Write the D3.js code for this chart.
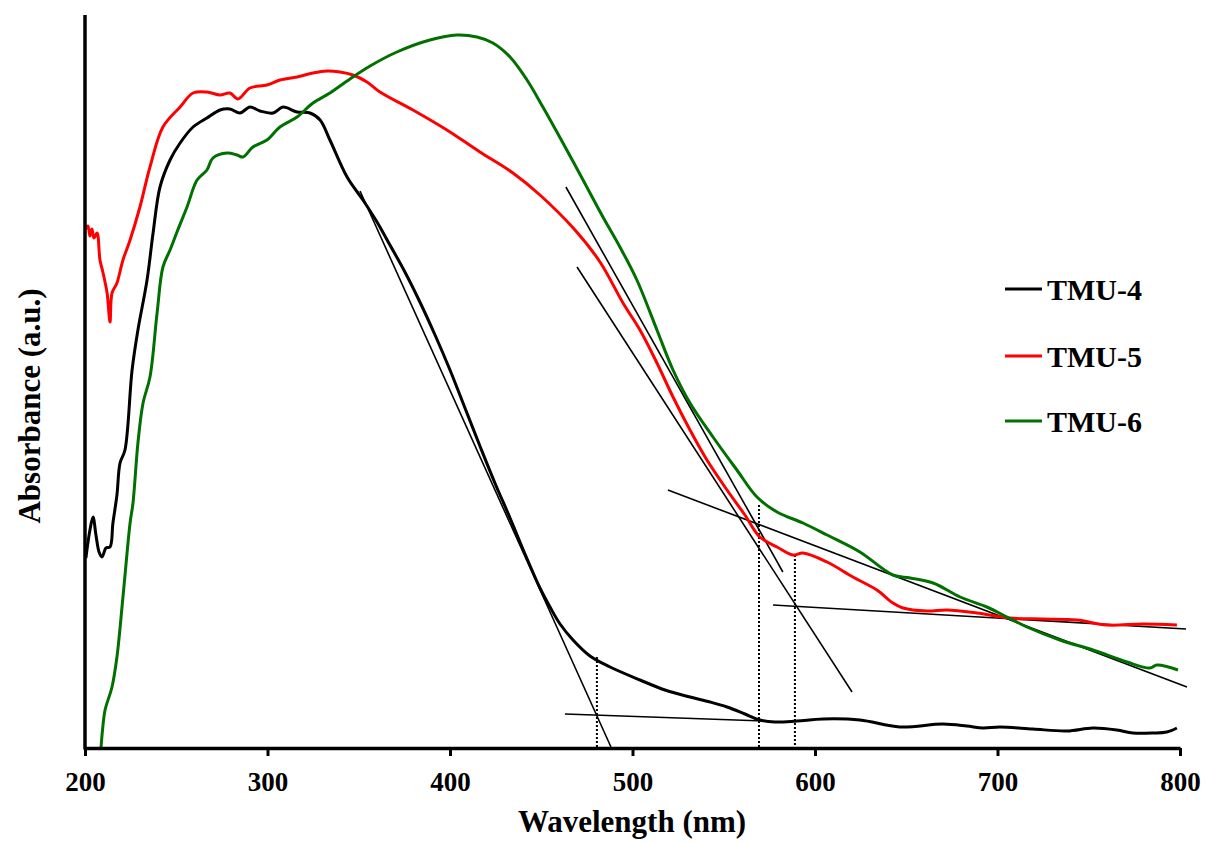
<!DOCTYPE html>
<html>
<head>
<meta charset="utf-8">
<script src="https://cdn.jsdelivr.net/npm/d3@7"></script>
<style>
  html, body { margin: 0; padding: 0; background: #fff; }
  svg { display: block; }
  text { font-family: "Liberation Serif", "Times New Roman", serif; font-weight: bold; fill: #000; }
</style>
</head>
<body>
<svg id="chart" width="1207" height="842"></svg>
<script>
// ---- data (wavelength nm, absorbance a.u.) ----
const xTicks = [200, 300, 400, 500, 600, 700, 800];
const seriesNames = ["TMU-4", "TMU-5", "TMU-6"];
const seriesColors = ["#000000", "#ff0000", "#007000"];

const tmu4 = [
  [200.5,0.380],[202.7,0.436],[204.4,0.462],[206.0,0.426],[207.7,0.392],[209.3,0.382],[211.5,0.400],
  [213.7,0.402],[215.3,0.450],[217.5,0.506],[219.2,0.570],[221.9,0.596],[225.8,0.756],[229.0,0.836],
  [234.0,0.936],[237.3,1.030],[241.1,1.122],[246.6,1.176],[252.1,1.210],[259.2,1.242],[266.8,1.260],
  [274.0,1.276],[279.4,1.278],[284.9,1.270],[290.4,1.282],[295.9,1.274],[303.0,1.270],[308.5,1.282],
  [316.2,1.272],[323.3,1.270],[328.8,1.256],[334.2,1.216],[343.6,1.142],[352.3,1.096],[360.0,1.052],
  [367.1,1.006],[375.3,0.952],[383.5,0.892],[391.8,0.826],[400.0,0.756],[408.2,0.680],[416.4,0.604],
  [424.6,0.530],[432.9,0.460],[441.1,0.388],[449.3,0.320],[454.8,0.282],[460.3,0.248],[467.4,0.216],
  [476.7,0.184],[487.7,0.162],[504.1,0.136],[517.8,0.116],[531.5,0.102],[542.5,0.092],[551.8,0.082],
  [561.6,0.068],[569.8,0.056],[578.1,0.052],[590.1,0.054],[604.4,0.058],[624.6,0.056],[646.5,0.042],
  [670.1,0.048],[683.2,0.044],[692.0,0.040],[701.3,0.042],[719.4,0.038],[738.0,0.034],[752.3,0.040],
  [765.4,0.036],[774.2,0.030],[785.2,0.030],[792.8,0.032],[798.3,0.040]
];

const tmu5 = [
  [200.0,1.036],[201.6,1.044],[202.7,1.024],[203.8,1.038],[204.9,1.020],[206.6,1.030],[208.2,0.976],
  [209.9,0.950],[212.1,0.910],[213.7,0.852],[214.8,0.910],[217.5,0.930],[220.8,0.976],[224.7,1.016],
  [230.1,1.082],[235.6,1.162],[242.7,1.242],[252.1,1.282],[259.2,1.310],[266.8,1.312],[274.0,1.306],
  [279.4,1.310],[283.8,1.298],[290.4,1.320],[299.7,1.326],[306.8,1.336],[316.2,1.342],[324.9,1.350],
  [332.6,1.354],[339.7,1.352],[346.8,1.346],[354.5,1.332],[361.6,1.312],[379.7,1.276],[398.3,1.236],
  [416.4,1.192],[434.5,1.150],[449.3,1.106],[468.5,1.036],[482.2,0.972],[494.8,0.890],[504.1,0.836],
  [513.4,0.770],[522.2,0.702],[531.5,0.636],[540.8,0.576],[551.8,0.516],[561.6,0.466],[569.8,0.422],
  [579.2,0.402],[587.9,0.386],[593.4,0.390],[606.6,0.372],[620.8,0.342],[633.9,0.316],[642.7,0.290],
  [648.2,0.280],[661.3,0.274],[672.3,0.276],[688.7,0.270],[706.8,0.260],[724.9,0.258],[743.5,0.256],
  [759.9,0.246],[779.7,0.248],[798.3,0.246]
];

const tmu6 = [
  [208.8,0.002],[209.6,0.036],[211.0,0.076],[214.8,0.122],[217.5,0.182],[220.8,0.302],[224.7,0.450],
  [226.3,0.490],[229.0,0.610],[231.8,0.690],[235.6,0.742],[239.5,0.870],[242.7,0.962],[246.6,0.996],
  [250.4,1.032],[255.9,1.082],[261.4,1.136],[266.8,1.156],[270.1,1.180],[277.8,1.190],[283.3,1.186],
  [286.6,1.182],[292.0,1.202],[299.7,1.216],[306.8,1.242],[316.2,1.262],[324.9,1.290],[334.2,1.310],
  [345.2,1.338],[356.2,1.364],[370.9,1.392],[389.0,1.416],[403.8,1.426],[414.8,1.422],[423.5,1.410],
  [432.9,1.382],[442.2,1.336],[450.9,1.282],[461.9,1.210],[472.9,1.136],[483.8,1.062],[493.1,1.002],
  [502.4,0.936],[513.4,0.836],[522.2,0.756],[531.5,0.690],[544.1,0.622],[557.2,0.556],[568.2,0.502],
  [579.2,0.472],[593.4,0.450],[606.6,0.426],[624.6,0.392],[642.7,0.346],[652.1,0.340],[664.7,0.330],
  [679.5,0.302],[694.2,0.282],[705.2,0.262],[716.1,0.242],[734.2,0.216],[752.3,0.196],[770.9,0.172],
  [783.5,0.160],[787.4,0.166],[798.9,0.156]
];

// tangent (extrapolation) lines: [[x1,y1],[x2,y2]]
const tangentLines = [
  [[350.7,1.114],[488.2,0.002]],   // TMU-4 edge
  [[463.0,0.068],[572.6,0.054]],   // TMU-4 baseline
  [[463.5,1.122],[582.4,0.352]],   // TMU-6 edge
  [[469.6,0.962],[620.3,0.112]],   // TMU-5 edge
  [[519.4,0.516],[803.8,0.122]],   // TMU-6 baseline
  [[577.0,0.286],[803.3,0.238]]    // TMU-5 baseline
];
// dotted drop lines: [wavelength, top absorbance]
const dropLines = [[480.5,0.182],[569.3,0.486],[589.0,0.386]];

// ---- drawing ----
const svg = d3.select("#chart");
const x = d3.scaleLinear().domain([200, 800]).range([85, 1180]);
const y = d3.scaleLinear().domain([0, 1.466]).range([748, 15]);

const line = d3.line().x(d => x(d[0])).y(d => y(d[1])).curve(d3.curveCatmullRom.alpha(0.5));
const straight = d3.line().x(d => x(d[0])).y(d => y(d[1]));

const series = [tmu4, tmu5, tmu6];

// tangents
svg.append("g").selectAll("path").data(tangentLines).join("path")
  .attr("d", straight).attr("fill", "none").attr("stroke", "#000").attr("stroke-width", 1.6);

// drop lines
svg.append("g").selectAll("line").data(dropLines).join("line")
  .attr("x1", d => x(d[0])).attr("x2", d => x(d[0]))
  .attr("y1", d => y(d[1])).attr("y2", y(0))
  .attr("stroke", "#000").attr("stroke-width", 2).attr("stroke-dasharray", "2,2");

// series
svg.append("g").selectAll("path").data(series).join("path")
  .attr("d", line).attr("fill", "none")
  .attr("stroke", (d, i) => seriesColors[i]).attr("stroke-width", 3)
  .attr("stroke-linejoin", "round");

// axes
const xAxis = d3.axisBottom(x).tickValues(xTicks).tickSize(8).tickSizeOuter(0).tickPadding(16);
const gx = svg.append("g").attr("transform", `translate(0,${y(0)})`).call(xAxis);
gx.select(".domain").attr("stroke-width", 3.5).attr("stroke", "#000");
gx.selectAll(".tick line").attr("stroke-width", 3).attr("stroke", "#000");
gx.selectAll(".tick text").style("font-size", "27px").style("font-family", '"Liberation Serif", serif').style("font-weight", "bold").attr("fill", "#000");

svg.append("line").attr("x1", x(200)).attr("x2", x(200)).attr("y1", 15).attr("y2", y(0) + 1.5)
  .attr("stroke", "#000").attr("stroke-width", 3.5);

// axis titles
svg.append("text").attr("x", 632).attr("y", 832).attr("text-anchor", "middle")
  .style("font-size", "31px").text("Wavelength (nm)");
svg.append("text").attr("transform", "translate(40,406) rotate(-90)").attr("text-anchor", "middle")
  .style("font-size", "31px").text("Absorbance (a.u.)");

// legend
const legY = [289, 356, 421];
const leg = svg.append("g").selectAll("g").data(seriesNames).join("g")
  .attr("transform", (d, i) => `translate(1005,${legY[i]})`);
leg.append("line").attr("x1", 0).attr("x2", 37).attr("y1", 0).attr("y2", 0)
  .attr("stroke", (d, i) => seriesColors[i]).attr("stroke-width", 3);
leg.append("text").attr("x", 42).attr("y", 11).style("font-size", "30px").text(d => d);
</script>
</body>
</html>
